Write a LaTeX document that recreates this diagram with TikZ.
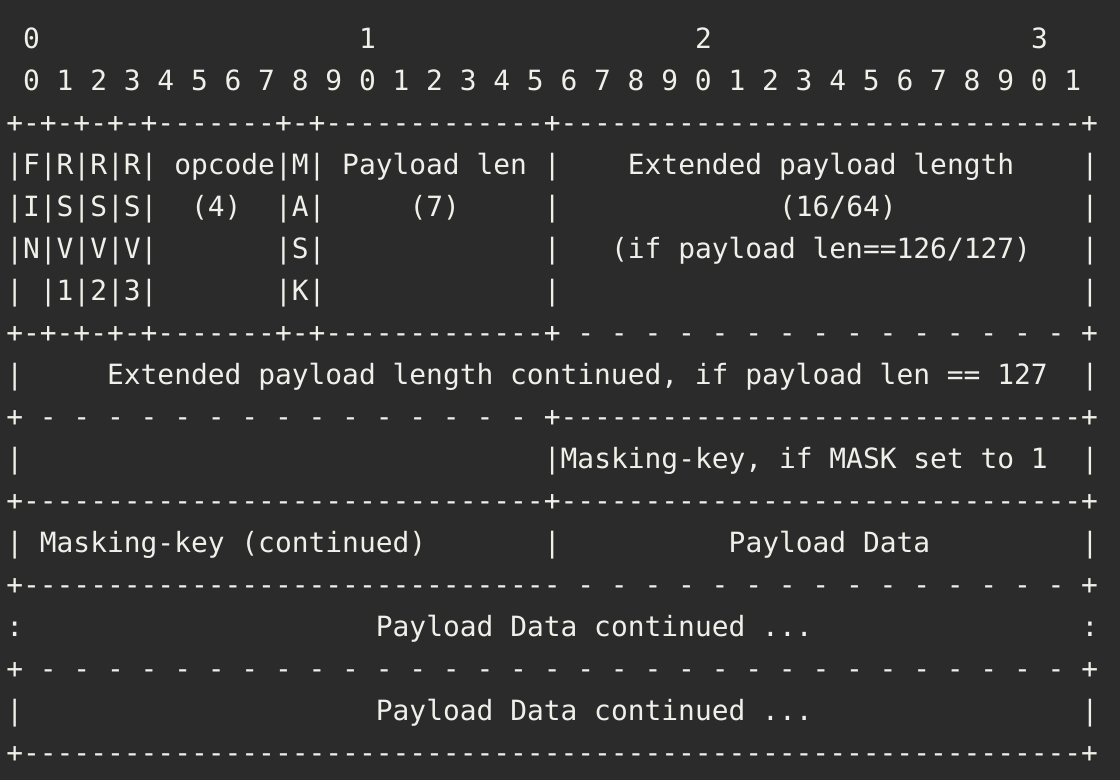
\documentclass[tikz,border=0pt]{standalone}
\usepackage{fontspec}
\setmonofont{DejaVu Sans Mono}
\definecolor{termbg}{HTML}{2B2B2B}
\definecolor{termfg}{HTML}{F0F0EA}

\begin{document}
\begin{tikzpicture}[x=1pt,y=1pt,
  ascii/.style={anchor=base west,inner sep=0pt,text=termfg,
    font=\ttfamily\fontsize{27.9pt}{27.9pt}\selectfont}]
\def\cw{16.8}
\def\lh{42.0}

\fill[termbg] (0,0) rectangle (1120,-780);

\foreach \r/\c/\txt [count=\n] in {
  0/1/{0}, 0/21/{1}, 0/41/{2}, 0/61/{3},
  1/1/{0 1 2 3 4 5 6 7 8 9 0 1 2 3 4 5 6 7 8 9 0 1 2 3 4 5 6 7 8 9 0 1},
  2/0/{+-+-+-+-+-------+-+-------------+-------------------------------+},
  3/0/{|F|R|R|R| opcode|M| Payload len |}, 3/37/{Extended payload length}, 3/64/{|},
  4/0/{|I|S|S|S|}, 4/11/{(4)}, 4/16/{|A|}, 4/24/{(7)}, 4/32/{|}, 4/46/{(16/64)}, 4/64/{|},
  5/0/{|N|V|V|V|}, 5/16/{|S|}, 5/32/{|}, 5/36/{(if payload len==126/127)}, 5/64/{|},
  6/0/{| |1|2|3|}, 6/16/{|K|}, 6/32/{|}, 6/64/{|},
  7/0/{+-+-+-+-+-------+-+-------------+ - - - - - - - - - - - - - - - +},
  8/0/{|}, 8/6/{Extended payload length continued, if payload len == 127}, 8/64/{|},
  9/0/{+ - - - - - - - - - - - - - - - +-------------------------------+},
  10/0/{|}, 10/32/{|Masking-key, if MASK set to 1}, 10/64/{|},
  11/0/{+-------------------------------+-------------------------------+},
  12/0/{| Masking-key (continued)}, 12/32/{|}, 12/43/{Payload Data}, 12/64/{|},
  13/0/{+-------------------------------- - - - - - - - - - - - - - - - +},
  14/0/{:}, 14/22/{Payload Data continued ...}, 14/64/{:},
  15/0/{+ - - - - - - - - - - - - - - - - - - - - - - - - - - - - - - - +},
  16/0/{|}, 16/22/{Payload Data continued ...}, 16/64/{|},
  17/0/{+---------------------------------------------------------------+}}
  \node[ascii] (seg\n) at (6.1+\c*\cw,-48.5-\r*\lh) {\txt};
\end{tikzpicture}
\end{document}
